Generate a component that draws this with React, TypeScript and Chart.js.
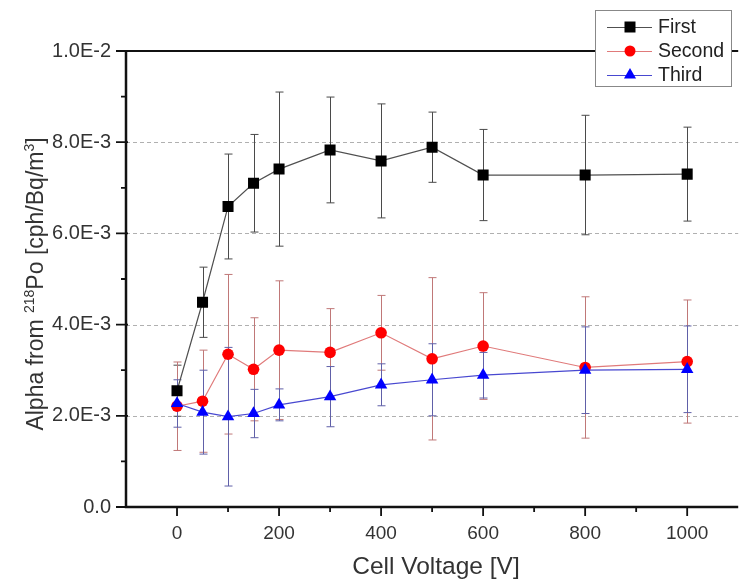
import React, { useEffect, useRef } from 'react';
import { Chart, registerables } from 'chart.js';

Chart.register(...registerables);

// ---- data ----
const voltages = [0, 50, 100, 150, 200, 300, 400, 500, 600, 800, 1000];

const firstValues = [2.55e-3, 4.49e-3, 6.59e-3, 7.10e-3, 7.41e-3, 7.83e-3, 7.59e-3, 7.89e-3, 7.28e-3, 7.28e-3, 7.30e-3];
const firstErrors = [0.56e-3, 0.77e-3, 1.15e-3, 1.07e-3, 1.69e-3, 1.16e-3, 1.25e-3, 0.77e-3, 1.0e-3, 1.31e-3, 1.03e-3];

const secondValues = [2.21e-3, 2.32e-3, 3.35e-3, 3.02e-3, 3.44e-3, 3.39e-3, 3.82e-3, 3.25e-3, 3.53e-3, 3.06e-3, 3.19e-3];
const secondErrors = [0.97e-3, 1.12e-3, 1.75e-3, 1.13e-3, 1.52e-3, 0.96e-3, 0.82e-3, 1.78e-3, 1.17e-3, 1.55e-3, 1.35e-3];

const thirdValues = [2.27e-3, 2.08e-3, 1.98e-3, 2.05e-3, 2.24e-3, 2.42e-3, 2.68e-3, 2.79e-3, 2.89e-3, 3.0e-3, 3.02e-3];
const thirdErrors = [0.52e-3, 0.92e-3, 1.52e-3, 0.53e-3, 0.35e-3, 0.66e-3, 0.46e-3, 0.79e-3, 0.5e-3, 0.95e-3, 0.95e-3];

const seriesNames = ['First', 'Second', 'Third'];

const yTickValues = [0, 2e-3, 4e-3, 6e-3, 8e-3, 1e-2];
const yTickLabels = ['0.0', '2.0E-3', '4.0E-3', '6.0E-3', '8.0E-3', '1.0E-2'];
const yMinorValues = [1e-3, 3e-3, 5e-3, 7e-3, 9e-3];
const yGridValues = [2e-3, 4e-3, 6e-3, 8e-3];

const xTickValues = [0, 200, 400, 600, 800, 1000];
const xTickLabels = ['0', '200', '400', '600', '800', '1000'];
const xMinorValues = [100, 300, 500, 700, 900];

const xAxisTitle = 'Cell Voltage [V]';
const yAxisTitleParts = [
  { text: 'Alpha from ', sup: false },
  { text: '218', sup: true },
  { text: 'Po [cph/Bq/m', sup: false },
  { text: '3', sup: true },
  { text: ']', sup: false },
];

const FONT = '"Liberation Sans", Arial, sans-serif';

const errorSets = [firstErrors, secondErrors, thirdErrors];
const errorColors = ['#4a4a4a', '#c07878', '#6060a8'];

const customPlugin = {
  id: 'customDraw',
  beforeDatasetsDraw(chart: any) {
    const { ctx, chartArea } = chart;
    const x = chart.scales.x;
    const y = chart.scales.y;
    ctx.save();
    // dashed grid lines
    ctx.strokeStyle = '#b0b0b0';
    ctx.lineWidth = 1;
    ctx.setLineDash([4, 3]);
    for (const v of yGridValues) {
      const py = Math.round(y.getPixelForValue(v)) + 0.5;
      ctx.beginPath();
      ctx.moveTo(chartArea.left, py);
      ctx.lineTo(chartArea.right, py);
      ctx.stroke();
    }
    ctx.setLineDash([]);
    // error bars
    chart.data.datasets.forEach((ds: any, i: number) => {
      const errs = errorSets[i];
      ctx.strokeStyle = errorColors[i];
      ctx.lineWidth = 1;
      ds.data.forEach((pt: any, j: number) => {
        const px = Math.round(x.getPixelForValue(pt.x)) + 0.5;
        const top = y.getPixelForValue(pt.y + errs[j]);
        const bot = y.getPixelForValue(pt.y - errs[j]);
        ctx.beginPath();
        ctx.moveTo(px, top);
        ctx.lineTo(px, bot);
        ctx.moveTo(px - 4, top);
        ctx.lineTo(px + 4, top);
        ctx.moveTo(px - 4, bot);
        ctx.lineTo(px + 4, bot);
        ctx.stroke();
      });
    });
    ctx.restore();
  },
  afterDraw(chart: any) {
    const { ctx, chartArea } = chart;
    const x = chart.scales.x;
    const y = chart.scales.y;
    ctx.save();
    // frame
    ctx.strokeStyle = '#111';
    ctx.lineWidth = 2;
    ctx.beginPath();
    ctx.moveTo(chartArea.left, chartArea.top);
    ctx.lineTo(chartArea.right, chartArea.top);
    ctx.stroke();
    ctx.lineWidth = 2.5;
    ctx.beginPath();
    ctx.moveTo(chartArea.left, chartArea.top - 1);
    ctx.lineTo(chartArea.left, chartArea.bottom);
    ctx.lineTo(chartArea.right, chartArea.bottom);
    ctx.stroke();
    // ticks
    ctx.lineWidth = 1.8;
    ctx.beginPath();
    for (const v of yTickValues) {
      const py = y.getPixelForValue(v);
      ctx.moveTo(chartArea.left - 10, py);
      ctx.lineTo(chartArea.left + 2, py);
    }
    for (const v of yMinorValues) {
      const py = y.getPixelForValue(v);
      ctx.moveTo(chartArea.left - 5, py);
      ctx.lineTo(chartArea.left, py);
    }
    for (const v of xTickValues) {
      const px = x.getPixelForValue(v);
      ctx.moveTo(px, chartArea.bottom);
      ctx.lineTo(px, chartArea.bottom + 9);
    }
    for (const v of xMinorValues) {
      const px = x.getPixelForValue(v);
      ctx.moveTo(px, chartArea.bottom);
      ctx.lineTo(px, chartArea.bottom + 5);
    }
    ctx.stroke();

    // axis titles
    ctx.fillStyle = '#333';
    ctx.font = `24.5px ${FONT}`;
    ctx.textAlign = 'center';
    ctx.textBaseline = 'middle';
    ctx.fillText(xAxisTitle, 436, 567);

    ctx.save();
    ctx.translate(43, 284);
    ctx.rotate(-Math.PI / 2);
    ctx.textAlign = 'left';
    ctx.textBaseline = 'alphabetic';
    let total = 0;
    const widths = yAxisTitleParts.map((p) => {
      ctx.font = p.sup ? `14px ${FONT}` : `23px ${FONT}`;
      const w = ctx.measureText(p.text).width;
      total += w;
      return w;
    });
    let cx = -total / 2;
    yAxisTitleParts.forEach((p, i) => {
      ctx.font = p.sup ? `14px ${FONT}` : `23px ${FONT}`;
      ctx.fillText(p.text, cx, p.sup ? -9 : 0);
      cx += widths[i];
    });
    ctx.restore();

    // legend
    const lx = 595, ly = 10, lw = 136, lh = 76;
    ctx.fillStyle = '#fff';
    ctx.fillRect(lx, ly, lw, lh);
    ctx.strokeStyle = '#888';
    ctx.lineWidth = 1;
    ctx.strokeRect(lx + 0.5, ly + 0.5, lw, lh);
    chart.data.datasets.forEach((ds: any, i: number) => {
      const ry = 27 + i * 24;
      ctx.strokeStyle = ds.borderColor;
      ctx.lineWidth = 1;
      ctx.beginPath();
      ctx.moveTo(607, ry + 0.5);
      ctx.lineTo(652, ry + 0.5);
      ctx.stroke();
      ctx.fillStyle = ds.pointBackgroundColor;
      const mx = 630;
      ctx.beginPath();
      if (ds.pointStyle === 'rect') {
        ctx.rect(mx - 5.5, ry - 5.5, 11, 11);
      } else if (ds.pointStyle === 'circle') {
        ctx.arc(mx, ry, 5.5, 0, Math.PI * 2);
      } else {
        const r = 7;
        ctx.moveTo(mx, ry - r);
        ctx.lineTo(mx + r * Math.sin((2 * Math.PI) / 3), ry - r * Math.cos((2 * Math.PI) / 3));
        ctx.lineTo(mx + r * Math.sin((4 * Math.PI) / 3), ry - r * Math.cos((4 * Math.PI) / 3));
        ctx.closePath();
      }
      ctx.fill();
      ctx.fillStyle = '#222';
      ctx.font = `19.5px ${FONT}`;
      ctx.textAlign = 'left';
      ctx.textBaseline = 'middle';
      ctx.fillText(ds.label, 658, ry + 1);
    });
    ctx.restore();
  },
};

export default function App() {
  const canvasRef = useRef<HTMLCanvasElement | null>(null);

  useEffect(() => {
    const canvas = canvasRef.current;
    if (!canvas) return;
    const mk = (vals: number[]) => voltages.map((v, i) => ({ x: v, y: vals[i] }));
    const chart = new Chart(canvas, {
      type: 'line',
      data: {
        datasets: [
          {
            label: seriesNames[0],
            data: mk(firstValues),
            borderColor: '#505050',
            borderWidth: 1.2,
            pointStyle: 'rect',
            pointRadius: 7.8,
            pointBackgroundColor: '#000',
            pointBorderColor: '#000',
            pointBorderWidth: 0,
            order: 2,
          },
          {
            label: seriesNames[1],
            data: mk(secondValues),
            borderColor: '#e07a7a',
            borderWidth: 1.2,
            pointStyle: 'circle',
            pointRadius: 5.8,
            pointBackgroundColor: '#ff0000',
            pointBorderColor: '#ff0000',
            pointBorderWidth: 0,
            order: 1,
          },
          {
            label: seriesNames[2],
            data: mk(thirdValues),
            borderColor: '#4848d0',
            borderWidth: 1.2,
            pointStyle: 'triangle',
            pointRadius: 7.2,
            pointBackgroundColor: '#0000ff',
            pointBorderColor: '#0000ff',
            pointBorderWidth: 0,
            order: 0,
          },
        ] as any,
      },
      options: {
        animation: false,
        responsive: false,
        events: [],
        layout: { padding: { top: 51, left: 0, right: 0, bottom: 0 } },
        plugins: { legend: { display: false }, tooltip: { enabled: false } },
        scales: {
          x: {
            type: 'linear',
            min: -100,
            max: 1100,
            grid: { display: false, drawTicks: false },
            border: { display: false },
            afterBuildTicks: (scale: any) => {
              scale.ticks = xTickValues.map((v) => ({ value: v }));
            },
            afterFit: (scale: any) => {
              scale.height = 74;
            },
            ticks: {
              padding: 15,
              color: '#333',
              font: { family: FONT, size: 19 },
              maxRotation: 0,
              autoSkip: false,
              callback: (v: any) => {
                const idx = xTickValues.indexOf(Number(v));
                return idx >= 0 ? xTickLabels[idx] : '';
              },
            },
          },
          y: {
            type: 'linear',
            min: 0,
            max: 0.01,
            grid: { display: false, drawTicks: false },
            border: { display: false },
            afterBuildTicks: (scale: any) => {
              scale.ticks = yTickValues.map((v) => ({ value: v }));
            },
            afterFit: (scale: any) => {
              scale.width = 126;
            },
            ticks: {
              padding: 15,
              color: '#333',
              font: { family: FONT, size: 20 },
              autoSkip: false,
              callback: (v: any) => {
                const n = Number(v);
                const idx = yTickValues.findIndex((t) => Math.abs(t - n) < 1e-9);
                return idx >= 0 ? yTickLabels[idx] : '';
              },
            },
          },
        },
      } as any,
      plugins: [customPlugin],
    });
    return () => chart.destroy();
  }, []);

  return (
    <div style={{ position: 'fixed', left: 0, top: 0, width: 741, height: 581, overflow: 'hidden', background: '#fff' }}>
      <canvas ref={canvasRef} width={746} height={581} style={{ display: 'block', width: 746, height: 581 }} />
    </div>
  );
}
